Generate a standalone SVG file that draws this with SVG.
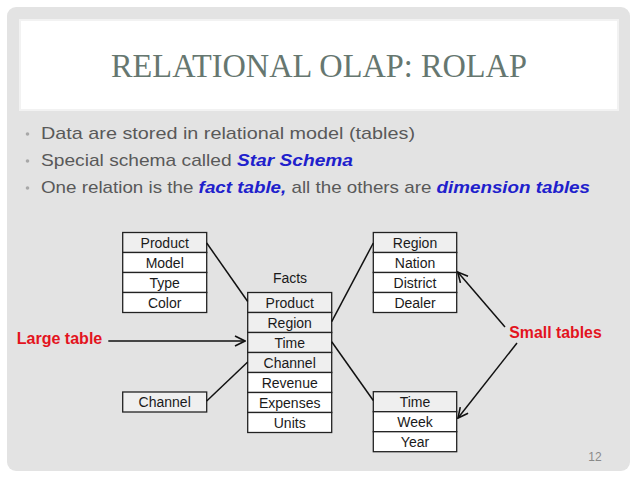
<svg xmlns="http://www.w3.org/2000/svg" width="638" height="478" viewBox="0 0 638 478">
<style>
.cell{stroke:#222;stroke-width:1.3}
.key{fill:#efefef}
.val{fill:#ffffff}
.ct{font-family:"Liberation Sans",Arial,sans-serif;font-size:14px;fill:#1a1a1a;text-anchor:middle}
.bt{font-family:"Liberation Sans",Arial,sans-serif;font-size:17px;fill:#595959}
.em{fill:#2020cc;font-weight:bold;font-style:italic}
.lbl{font-family:"Liberation Sans",Arial,sans-serif;font-size:16px;font-weight:bold;fill:#e3141e}
.conn{stroke:#111;stroke-width:1.5;fill:none}
</style>
<defs>
<marker id="arr" viewBox="0 0 12 12" refX="11" refY="6" markerWidth="12" markerHeight="12" markerUnits="userSpaceOnUse" orient="auto">
<path d="M1,1 L11,6 L1,11" fill="none" stroke="#111" stroke-width="1.6"/>
</marker>
</defs>
<rect x="0" y="0" width="638" height="478" fill="#ffffff"/>
<rect x="7" y="7" width="623" height="464" rx="9" fill="#e3e3e3"/>
<rect x="20" y="20" width="598" height="90" fill="#ffffff" stroke="#f2f2f2" stroke-width="2"/>
<text x="111" y="77" font-family="Liberation Serif,Times New Roman,serif" font-size="33" fill="#667770" textLength="416" lengthAdjust="spacingAndGlyphs">RELATIONAL OLAP: ROLAP</text>

<g id="bullets">
<circle cx="27.5" cy="134" r="1.8" fill="#a8a8a8"/>
<circle cx="27.5" cy="161" r="1.8" fill="#a8a8a8"/>
<circle cx="27.5" cy="188" r="1.8" fill="#a8a8a8"/>
<text class="bt" x="41" y="139" textLength="374" lengthAdjust="spacingAndGlyphs">Data are stored in relational model (tables)</text>
<text class="bt" x="41" y="166" textLength="312" lengthAdjust="spacingAndGlyphs">Special schema called <tspan class="em">Star Schema</tspan></text>
<text class="bt" x="41" y="193" textLength="549" lengthAdjust="spacingAndGlyphs">One relation is the <tspan class="em">fact table,</tspan> all the others are <tspan class="em">dimension tables</tspan></text>
</g>

<g id="product-table">
<rect class="cell key" x="122.7" y="232.5" width="84" height="20"/>
<rect class="cell val" x="122.7" y="252.5" width="84" height="20"/>
<rect class="cell val" x="122.7" y="272.5" width="84" height="20"/>
<rect class="cell val" x="122.7" y="292.5" width="84" height="20"/>
<text class="ct" x="164.7" y="247.5">Product</text>
<text class="ct" x="164.7" y="267.5">Model</text>
<text class="ct" x="164.7" y="287.5">Type</text>
<text class="ct" x="164.7" y="307.5">Color</text>
</g>

<g id="facts-table">
<text class="ct" x="290" y="283" font-size="14.5">Facts</text>
<rect class="cell key" x="247.7" y="292.5" width="84" height="20"/>
<rect class="cell key" x="247.7" y="312.5" width="84" height="20"/>
<rect class="cell key" x="247.7" y="332.5" width="84" height="20"/>
<rect class="cell key" x="247.7" y="352.5" width="84" height="20"/>
<rect class="cell val" x="247.7" y="372.5" width="84" height="20"/>
<rect class="cell val" x="247.7" y="392.5" width="84" height="20"/>
<rect class="cell val" x="247.7" y="412.5" width="84" height="20"/>
<text class="ct" x="289.7" y="307.5">Product</text>
<text class="ct" x="289.7" y="327.5">Region</text>
<text class="ct" x="289.7" y="347.5">Time</text>
<text class="ct" x="289.7" y="367.5">Channel</text>
<text class="ct" x="289.7" y="387.5">Revenue</text>
<text class="ct" x="289.7" y="407.5">Expenses</text>
<text class="ct" x="289.7" y="427.5">Units</text>
</g>

<g id="region-table">
<rect class="cell key" x="373.3" y="232.5" width="83.4" height="20"/>
<rect class="cell val" x="373.3" y="252.5" width="83.4" height="20"/>
<rect class="cell val" x="373.3" y="272.5" width="83.4" height="20"/>
<rect class="cell val" x="373.3" y="292.5" width="83.4" height="20"/>
<text class="ct" x="415" y="247.5">Region</text>
<text class="ct" x="415" y="267.5">Nation</text>
<text class="ct" x="415" y="287.5">District</text>
<text class="ct" x="415" y="307.5">Dealer</text>
</g>

<g id="channel-table">
<rect class="cell key" x="122.7" y="392" width="84" height="20"/>
<text class="ct" x="164.7" y="407">Channel</text>
</g>

<g id="time-table">
<rect class="cell key" x="373.3" y="391.7" width="83.4" height="20"/>
<rect class="cell val" x="373.3" y="411.7" width="83.4" height="20"/>
<rect class="cell val" x="373.3" y="431.7" width="83.4" height="20"/>
<text class="ct" x="415" y="406.7">Time</text>
<text class="ct" x="415" y="426.7">Week</text>
<text class="ct" x="415" y="446.7">Year</text>
</g>

<g id="labels">
<text class="lbl" x="16.7" y="344" textLength="85.6" lengthAdjust="spacingAndGlyphs">Large table</text>
<text class="lbl" x="509.3" y="337.5" textLength="92.4" lengthAdjust="spacingAndGlyphs">Small tables</text>
<text x="595" y="461" font-family="Liberation Sans,Arial,sans-serif" font-size="12" fill="#8a8a8a" text-anchor="middle">12</text>
</g>

<g id="connectors">
<line class="conn" x1="206.7" y1="243" x2="247.7" y2="301.5"/>
<line class="conn" x1="331.7" y1="321.7" x2="373.3" y2="243"/>
<line class="conn" x1="331.7" y1="341.7" x2="373.3" y2="400.5"/>
<line class="conn" x1="206.7" y1="401" x2="247.7" y2="362"/>
<line class="conn" x1="108.3" y1="341" x2="245" y2="341" marker-end="url(#arr)"/>
<line class="conn" x1="505" y1="327" x2="457.7" y2="272" marker-end="url(#arr)"/>
<line class="conn" x1="517" y1="343" x2="458" y2="418" marker-end="url(#arr)"/>
</g>
</svg>
